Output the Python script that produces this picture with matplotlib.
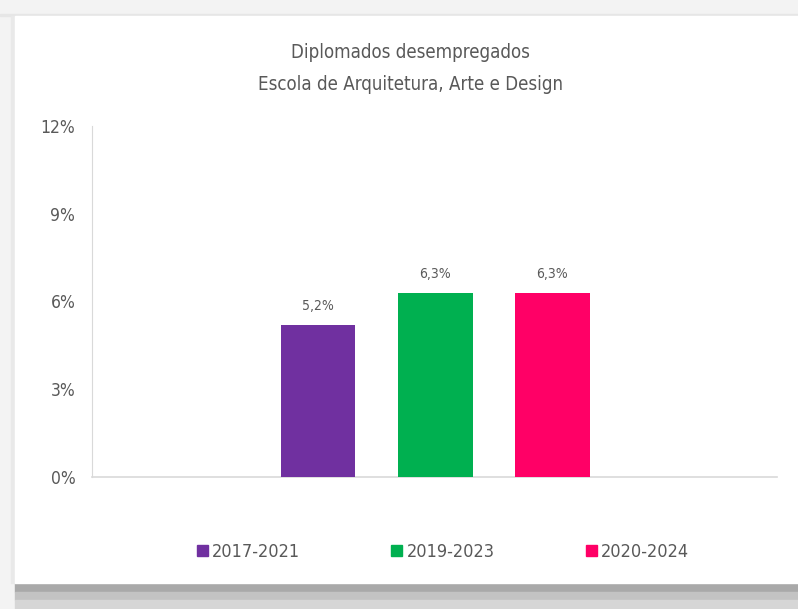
import matplotlib.pyplot as plt
from matplotlib.patches import Rectangle, Patch

periods = ["2017-2021", "2019-2023", "2020-2024"]
unemployed = [5.2, 6.3, 6.3]
labels = ["5,2%", "6,3%", "6,3%"]
colors = ["#7030A0", "#00B050", "#FF0066"]
yticks = [0, 3, 6, 9, 12]

plt.rcParams["font.family"] = ["DejaVu Sans"]
plt.rcParams["font.stretch"] = "condensed"
text_col = "#595959"

W, H = 798, 609
fig = plt.figure(figsize=(W / 100, H / 100), dpi=100)
fig.patch.set_facecolor("#f3f3f3")

def px_rect(x0, y0, x1, y1, color):
    # pixel box (top-left origin) -> figure rectangle
    fig.patches.append(Rectangle((x0 / W, 1 - y1 / H), (x1 - x0) / W, (y1 - y0) / H,
                                 transform=fig.transFigure, color=color, zorder=-5))

# card + shadow
px_rect(0, 14, W, 16, "#e6e6e6")
px_rect(15, 583, W, 592, "#a9a9a9")
px_rect(15, 592, W, 600, "#c3c3c3")
px_rect(15, 600, W, H, "#d6d6d6")
px_rect(11, 16, 15, 583, "#e9e9e9")
px_rect(15, 16, W, 583, "white")

ax = fig.add_axes([92 / W, (H - 477) / H, 685 / W, 351 / H])
ax.set_zorder(2)
ax.set_facecolor("none")
xs = range(len(periods))
bars = ax.bar(xs, unemployed, width=0.64, color=colors, zorder=3)
for b, lab in zip(bars, labels):
    ax.text(b.get_x() + b.get_width() / 2, b.get_height() + 0.4, lab,
            ha="center", va="bottom", fontsize=10, color=text_col)

ax.set_xlim(-1.93, 3.92)
ax.set_ylim(0, 12)
ax.set_yticks(yticks)
ax.set_yticklabels([f"{t}%" for t in yticks], fontsize=12.5, color=text_col)
ax.set_xticks([])
ax.tick_params(axis="y", length=0, pad=12)
for s in ["top", "right"]:
    ax.spines[s].set_visible(False)
ax.spines["left"].set_color("#d9d9d9")
ax.spines["bottom"].set_color("#d9d9d9")
ax.spines["bottom"].set_linewidth(1.2)

fig.text(410 / W, 1 - 53 / H, "Diplomados desempregados", ha="center", va="center",
         fontsize=13.4, color=text_col)
fig.text(410 / W, 1 - 84 / H, "Escola de Arquitetura, Arte e Design", ha="center", va="center",
         fontsize=13.4, color=text_col)

handles = [Patch(color=c) for c in colors]
fig.legend(handles, periods, loc="center", bbox_to_anchor=(443 / W, 1 - 552 / H), ncol=3,
           frameon=False, fontsize=13, labelcolor=text_col, handlelength=0.6,
           handleheight=0.6, handletextpad=0.25, columnspacing=5.05)

fig.savefig("out.png", dpi=100, facecolor=fig.get_facecolor())
